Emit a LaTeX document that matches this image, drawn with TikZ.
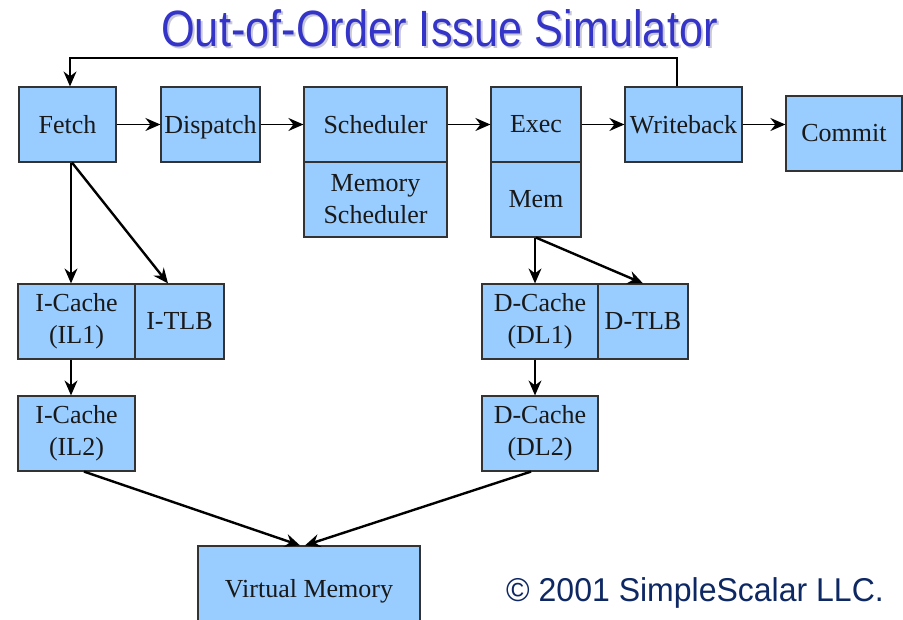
\documentclass[tikz,border=0pt]{standalone}
\usepackage{fontspec}
\setmainfont{Liberation Serif}
\newfontfamily\titlefont{Liberation Sans}
\usetikzlibrary{arrows.meta}
\definecolor{boxfill}{HTML}{99CCFF}
\definecolor{boxline}{HTML}{333333}
\definecolor{titleblue}{RGB}{52,52,200}
\definecolor{titleshadow}{RGB}{200,200,215}
\definecolor{copynavy}{RGB}{14,40,100}
\tikzset{
  x=1pt, y=-1pt,
  blk/.style={draw=boxline, fill=boxfill, line width=1.2pt, inner sep=0pt,
    minimum height=75pt, align=center, text=black!90,
    font=\fontsize{26}{32}\selectfont},
  tip/.style={-{Stealth[length=15pt,width=13pt,inset=5pt]}},
  thinarr/.style={tip, line width=1.2pt},
  medarr/.style={tip, line width=1.8pt},
  thickarr/.style={tip, line width=2.4pt},
}
\begin{document}
\begin{tikzpicture}
\clip (0,0) rectangle (903,620);
\fill[white] (0,0) rectangle (903,620);
% title
\node[anchor=base, text=titleshadow, font=\titlefont\fontsize{51}{53}\selectfont] (titlesh) at (441.5,49) {\scalebox{0.85}[1]{Out-of-Order Issue Simulator}};
\node[anchor=base, text=titleblue, font=\titlefont\fontsize{51}{53}\selectfont] (title) at (439.5,47) {\scalebox{0.85}[1]{Out-of-Order Issue Simulator}};
% pipeline
\node[blk, minimum width=97pt] (fetch) at (67.5,124.5) {Fetch};
\node[blk, minimum width=99pt, text depth=0pt] (dispatch) at (210.5,124.5) {Dispatch};
\node[blk, minimum width=143pt] (sched) at (375.5,124.5) {Scheduler};
\node[blk, minimum width=143pt] (memsched) at (375.5,199.5) {Memory\\Scheduler};
\node[blk, minimum width=90pt] (exec) at (536,124.5) {Exec};
\node[blk, minimum width=90pt] (mem) at (536,199.5) {Mem};
\node[blk, minimum width=117pt] (wb) at (683.5,124.5) {Writeback};
\node[blk, minimum width=116pt] (commit) at (844,133.5) {Commit};
% caches
\node[blk, minimum width=117pt] (il1) at (76.5,321.5) {I-Cache\\(IL1)};
\node[blk, minimum width=89pt] (itlb) at (179.5,321.5) {I-TLB};
\node[blk, minimum width=117pt] (il2) at (76.5,433.5) {I-Cache\\(IL2)};
\node[blk, minimum width=116pt] (dl1) at (540,321.5) {D-Cache\\(DL1)};
\node[blk, minimum width=90pt] (dtlb) at (643,321.5) {D-TLB};
\node[blk, minimum width=116pt] (dl2) at (540,433.5) {D-Cache\\(DL2)};
\node[blk, minimum width=222pt, minimum height=84pt, text depth=0pt] (vm) at (309,588) {Virtual Memory};
% copyright
\node[anchor=base west, inner sep=0pt, text=copynavy, font=\titlefont\fontsize{33}{35}\selectfont] (copy) at (506,601) {\scalebox{0.97}[1]{\textcopyright\ 2001 SimpleScalar LLC.}};
% horizontal arrows
\draw[medarr] (fetch.east) -- (dispatch.west);
\draw[medarr] (dispatch.east) -- (sched.west);
\draw[medarr] (sched.east) -- (exec.west);
\draw[medarr] (exec.east) -- (wb.west);
\draw[medarr] (wb.east) -- (wb.east -| commit.west);
% feedback
\coordinate (fbr) at (677,58);
\coordinate (fbl) at (70,58);
\draw[thinarr] ([xshift=-6.5pt]wb.north) -- (fbr) -- (fbl) -- ([xshift=2.5pt]fetch.north);
% fetch to icache
\draw[thinarr] ([xshift=3.5pt]fetch.south) -- ([xshift=3.5pt]fetch.south |- il1.north);
\draw[thickarr] ([xshift=4.5pt]fetch.south) -- ([xshift=-11.5pt]itlb.north);
\draw[thinarr] ([xshift=-5.5pt]il1.south) -- ([xshift=-5.5pt]il2.north);
% mem to dcache
\draw[thinarr] ([xshift=-1pt]mem.south) -- ([xshift=-1pt]mem.south |- dl1.north);
\draw[thickarr] (mem.south) -- (dtlb.north);
\draw[thinarr] ([xshift=-5pt]dl1.south) -- ([xshift=-5pt]dl2.north);
% to virtual memory
\draw[thickarr] ([xshift=7.5pt]il2.south) -- ([xshift=-9pt]vm.north);
\draw[thickarr] ([xshift=-9pt]dl2.south) -- ([xshift=-4pt]vm.north);
\end{tikzpicture}
\end{document}
